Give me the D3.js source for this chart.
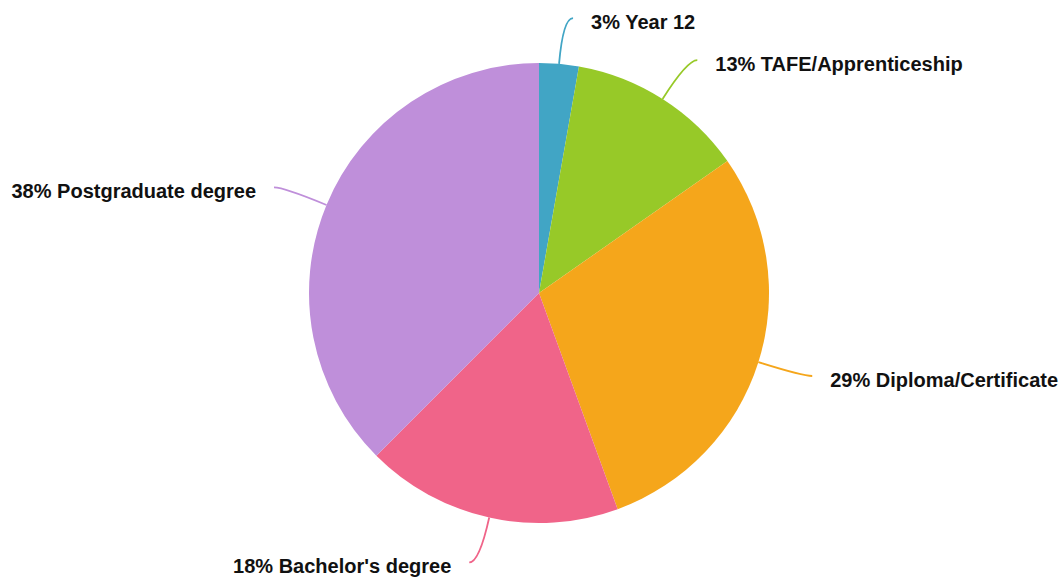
<!DOCTYPE html>
<html>
<head>
<meta charset="utf-8">
<script src="https://cdn.jsdelivr.net/npm/d3@7"></script>
<style>
  html, body { margin: 0; padding: 0; background: #fff; }
  svg { display: block; }
  .label { font-family: "Liberation Sans", Arial, Helvetica, sans-serif; font-weight: bold; font-size: 20px; fill: #111; }
</style>
</head>
<body>
<svg id="chart" width="1060" height="583"></svg>
<script>
// Highest level of education (respondent counts)
const categories = ["Year 12", "TAFE/Apprenticeship", "Diploma/Certificate", "Bachelor's degree", "Postgraduate degree"];
const counts = [2, 9, 21, 13, 27];
const colors = ["#41a5c5", "#97c928", "#f5a61b", "#f06489", "#bf8fda"];

const width = 1060, height = 583;
const cx = 539, cy = 293;
const radius = 230;

const total = d3.sum(counts);
const data = categories.map((c, i) => ({ category: c, value: counts[i], color: colors[i] }));

const svg = d3.select("#chart");
const g = svg.append("g").attr("transform", `translate(${cx},${cy})`);

const pie = d3.pie().value(d => d.value).sort(null);
const arcs = pie(data);

const arc = d3.arc().innerRadius(0).outerRadius(radius);

g.selectAll("path.slice")
  .data(arcs)
  .join("path")
  .attr("class", "slice")
  .attr("d", arc)
  .attr("fill", d => d.data.color);

// Curved leader lines: leave the rim at the slice's mid-angle, then bend horizontal toward the label
const rimArc = d3.arc().innerRadius(radius).outerRadius(radius);
const elbowArc = d3.arc().innerRadius(radius + 46).outerRadius(radius + 46);

function midAngle(d) { return (d.startAngle + d.endAngle) / 2; }
function side(d) { return midAngle(d) < Math.PI ? 1 : -1; }

g.selectAll("path.leader")
  .data(arcs)
  .join("path")
  .attr("class", "leader")
  .attr("fill", "none")
  .attr("stroke", d => d.data.color)
  .attr("stroke-width", 1.8)
  .attr("d", d => {
    const p0 = rimArc.centroid(d);
    const p1 = elbowArc.centroid(d);
    const p2 = [p1[0] + side(d) * 10, p1[1]];
    const path = d3.path();
    path.moveTo(p0[0], p0[1]);
    path.quadraticCurveTo(p1[0], p1[1], p2[0], p2[1]);
    return path.toString();
  });

g.selectAll("text.label")
  .data(arcs)
  .join("text")
  .attr("class", "label")
  .attr("x", d => elbowArc.centroid(d)[0] + side(d) * 28)
  .attr("y", d => elbowArc.centroid(d)[1] + 11)
  .attr("text-anchor", d => side(d) > 0 ? "start" : "end")
  .text(d => `${Math.round(d.data.value / total * 100)}% ${d.data.category}`);
</script>
</body>
</html>
